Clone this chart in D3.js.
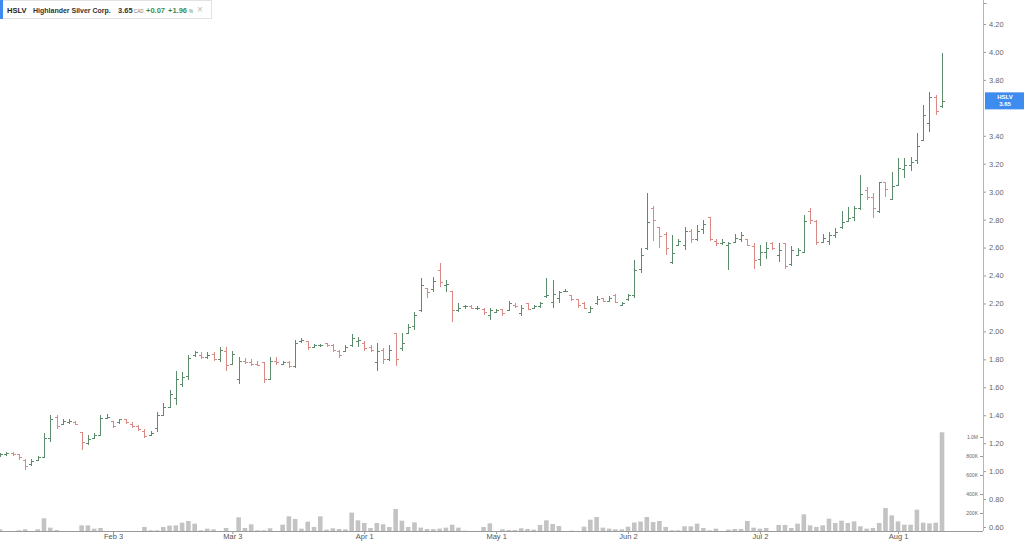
<!DOCTYPE html>
<html><head><meta charset="utf-8">
<script src="https://cdn.jsdelivr.net/npm/d3@7"></script>
<style>
html,body{margin:0;padding:0;background:#fff;}
svg{display:block;font-family:"Liberation Sans",Arial,sans-serif;}
</style></head>
<body>
<svg id="chart" width="1024" height="546"></svg>
<script>
const dates = [
"2025-01-08","2025-01-09","2025-01-10","2025-01-13","2025-01-14","2025-01-15","2025-01-16","2025-01-17","2025-01-20","2025-01-21",
"2025-01-22","2025-01-23","2025-01-24","2025-01-27","2025-01-28","2025-01-29","2025-01-30","2025-01-31","2025-02-03","2025-02-04",
"2025-02-05","2025-02-06","2025-02-07","2025-02-10","2025-02-11","2025-02-12","2025-02-13","2025-02-14","2025-02-18","2025-02-19",
"2025-02-20","2025-02-21","2025-02-24","2025-02-25","2025-02-26","2025-02-27","2025-02-28","2025-03-03","2025-03-04","2025-03-05",
"2025-03-06","2025-03-07","2025-03-10","2025-03-11","2025-03-12","2025-03-13","2025-03-14","2025-03-17","2025-03-18","2025-03-19",
"2025-03-20","2025-03-21","2025-03-24","2025-03-25","2025-03-26","2025-03-27","2025-03-28","2025-03-31","2025-04-01","2025-04-02",
"2025-04-03","2025-04-04","2025-04-07","2025-04-08","2025-04-09","2025-04-10","2025-04-11","2025-04-14","2025-04-15","2025-04-16",
"2025-04-17","2025-04-21","2025-04-22","2025-04-23","2025-04-24","2025-04-25","2025-04-28","2025-04-29","2025-04-30","2025-05-01",
"2025-05-02","2025-05-05","2025-05-06","2025-05-07","2025-05-08","2025-05-09","2025-05-12","2025-05-13","2025-05-14","2025-05-15",
"2025-05-16","2025-05-20","2025-05-21","2025-05-22","2025-05-23","2025-05-26","2025-05-27","2025-05-28","2025-05-29","2025-05-30",
"2025-06-02","2025-06-03","2025-06-04","2025-06-05","2025-06-06","2025-06-09","2025-06-10","2025-06-11","2025-06-12","2025-06-13",
"2025-06-16","2025-06-17","2025-06-18","2025-06-19","2025-06-20","2025-06-23","2025-06-24","2025-06-25","2025-06-26","2025-06-27",
"2025-06-30","2025-07-02","2025-07-03","2025-07-04","2025-07-07","2025-07-08","2025-07-09","2025-07-10","2025-07-11","2025-07-14",
"2025-07-15","2025-07-16","2025-07-17","2025-07-18","2025-07-21","2025-07-22","2025-07-23","2025-07-24","2025-07-25","2025-07-28",
"2025-07-29","2025-07-30","2025-07-31","2025-08-01","2025-08-05","2025-08-06","2025-08-07","2025-08-08","2025-08-11","2025-08-12",
"2025-08-13"];

const open = [
1.11,1.12,1.13,1.12,1.08,1.05,1.08,1.10,1.24,1.39, 1.34,1.35,1.35,1.28,1.20,1.24,1.26,1.38,1.36,1.35,
1.37,1.34,1.32,1.29,1.26,1.31,1.40,1.46,1.52,1.62, 1.68,1.83,1.83,1.82,1.84,1.80,1.86,1.77,1.66,1.79,
1.78,1.77,1.78,1.66,1.79,1.77,1.78,1.75,1.93,1.93, 1.89,1.90,1.92,1.90,1.86,1.86,1.90,1.93,1.92,1.89,
1.78,1.87,1.80,1.99,1.88,1.99,2.04,2.15,2.31,2.30, 2.44,2.33,2.29,2.15,2.18,2.18,2.17,2.16,2.12,2.14,
2.16,2.15,2.19,2.13,2.20,2.17,2.18,2.25,2.21,2.24, 2.29,2.26,2.23,2.20,2.14,2.20,2.24,2.22,2.26,2.19,
2.23,2.26,2.45,2.60,2.88,2.75,2.70,2.50,2.62,2.62, 2.72,2.66,2.73,2.82,2.65,2.63,2.62,2.64,2.66,2.66,
2.61,2.52,2.57,2.63,2.55,2.63,2.48,2.55,2.57,2.86, 2.79,2.64,2.65,2.69,2.75,2.79,2.82,2.88,3.01,2.96,
2.86,3.07,2.95,3.05,3.16,3.19,3.23,3.37,3.49,3.68, 3.61];

const high = [
1.13,1.14,1.14,1.12,1.09,1.09,1.11,1.27,1.40,1.40, 1.37,1.37,1.36,1.28,1.26,1.27,1.40,1.41,1.36,1.37,
1.37,1.35,1.33,1.30,1.29,1.42,1.49,1.58,1.72,1.71, 1.83,1.86,1.85,1.85,1.85,1.89,1.89,1.86,1.82,1.81,
1.80,1.79,1.78,1.82,1.82,1.79,1.79,1.94,1.95,1.93, 1.91,1.91,1.92,1.91,1.87,1.90,1.98,1.96,1.93,1.90,
1.92,1.88,1.90,1.99,1.99,2.05,2.14,2.38,2.31,2.39, 2.49,2.37,2.29,2.20,2.19,2.19,2.18,2.17,2.17,2.16,
2.16,2.22,2.20,2.19,2.20,2.19,2.21,2.38,2.37,2.29, 2.30,2.26,2.23,2.21,2.18,2.25,2.24,2.25,2.27,2.21,
2.27,2.51,2.60,2.99,2.90,2.75,2.71,2.69,2.66,2.75, 2.73,2.76,2.80,2.82,2.66,2.66,2.64,2.70,2.71,2.66,
2.63,2.62,2.64,2.64,2.63,2.63,2.61,2.60,2.83,2.88, 2.80,2.70,2.71,2.74,2.86,2.89,2.90,3.12,3.03,2.99,
3.07,3.07,3.14,3.24,3.24,3.25,3.42,3.62,3.71,3.69, 3.99];

const low = [
1.10,1.11,1.11,1.08,1.01,1.04,1.07,1.10,1.21,1.30, 1.33,1.34,1.33,1.15,1.19,1.23,1.25,1.37,1.31,1.34,
1.34,1.31,1.29,1.24,1.25,1.28,1.40,1.46,1.47,1.60, 1.65,1.82,1.80,1.80,1.79,1.78,1.72,1.76,1.62,1.77,
1.75,1.75,1.63,1.65,1.76,1.76,1.74,1.74,1.92,1.87, 1.89,1.89,1.89,1.85,1.81,1.86,1.89,1.89,1.86,1.85,
1.72,1.77,1.79,1.75,1.86,1.98,2.01,2.14,2.24,2.28, 2.32,2.28,2.07,2.14,2.16,2.16,2.15,2.12,2.08,2.13,
2.11,2.15,2.17,2.11,2.15,2.16,2.17,2.24,2.17,2.20, 2.28,2.22,2.17,2.16,2.13,2.19,2.21,2.21,2.20,2.18,
2.22,2.24,2.42,2.58,2.65,2.60,2.55,2.48,2.61,2.58, 2.63,2.65,2.70,2.65,2.61,2.62,2.44,2.63,2.64,2.61,
2.45,2.47,2.52,2.58,2.50,2.45,2.47,2.54,2.57,2.77, 2.62,2.63,2.62,2.67,2.73,2.78,2.79,2.87,2.94,2.81,
2.85,2.96,2.94,3.05,3.10,3.15,3.20,3.36,3.43,3.55, 3.60];

const close = [
1.12,1.13,1.12,1.10,1.04,1.07,1.10,1.24,1.37,1.32, 1.36,1.36,1.34,1.21,1.23,1.26,1.38,1.39,1.32,1.37,
1.35,1.32,1.30,1.25,1.27,1.40,1.46,1.55,1.66,1.67, 1.81,1.85,1.82,1.83,1.80,1.87,1.76,1.84,1.79,1.78,
1.77,1.76,1.66,1.79,1.78,1.78,1.75,1.92,1.94,1.89, 1.90,1.90,1.90,1.87,1.83,1.89,1.95,1.94,1.88,1.87,
1.86,1.80,1.87,1.80,1.92,2.03,2.12,2.33,2.28,2.36, 2.35,2.34,2.15,2.17,2.18,2.17,2.17,2.14,2.15,2.15,
2.13,2.20,2.18,2.17,2.16,2.18,2.20,2.26,2.27,2.28, 2.29,2.23,2.19,2.17,2.17,2.23,2.22,2.24,2.21,2.20,
2.26,2.44,2.55,2.78,2.80,2.68,2.60,2.56,2.65,2.72, 2.66,2.72,2.77,2.66,2.63,2.64,2.63,2.67,2.69,2.62,
2.51,2.57,2.60,2.60,2.58,2.47,2.58,2.58,2.79,2.80, 2.64,2.67,2.69,2.71,2.78,2.81,2.88,2.98,2.96,2.88,
3.07,3.02,3.04,3.17,3.19,3.21,3.33,3.55,3.68,3.58, 3.65];

const volume = [
28,0,0,18,28,0,28,144,46,21, 11,0,0,70,70,35,42,11,0,11,
7,0,0,53,18,18,53,67,70,98, 116,88,18,35,28,0,42,0,155,42,
81,18,18,39,7,77,165,137,35,109, 53,165,25,39,32,28,204,123,95,42,
95,81,53,242,119,53,102,46,32,30, 35,46,77,46,14,11,11,53,91,5,
28,21,21,39,32,25,74,123,84,63, 11,14,11,56,130,158,46,35,28,28,
56,100,110,158,105,116,53,18,18,60, 60,88,42,18,35,11,25,32,32,116,
46,35,42,11,74,74,42,88,186,70, 53,70,140,95,119,95,112,60,35,42,
95,253,175,112,77,77,235,98,91,98, 1050];

const priceTicks = [0.6,0.8,1.0,1.2,1.4,1.6,1.8,2.0,2.2,2.4,2.6,2.8,3.0,3.2,3.4,3.8,4.0,4.2];
const volumeTicks = [200,400,600,800,1000];
const dateTicks = ["2025-02-03","2025-03-03","2025-04-01","2025-05-01","2025-06-02","2025-07-02","2025-08-01"];
const dateTickLabels = ["Feb 3","Mar 3","Apr 1","May 1","Jun 2","Jul 2","Aug 1"];

const symbol = "HSLV", company = "Highlander Silver Corp.", last = "3.65", currency = "CAD", chg = "+0.07", chgPct = "+1.96";

const svg = d3.select("#chart");
const axisX = 983, baseY = 531;
const GREEN = "#5d8c6c", RED = "#da8984";

const x = d3.scalePoint().domain(dates).range([0, 942]);
const y = d3.scaleLinear().domain([0.6, 4.2]).range([527, 24]);
const yv = d3.scaleLinear().domain([0, 1000]).range([532, 437]);

// volume bars
svg.append("g").selectAll("rect").data(dates).join("rect")
  .attr("x", d => x(d) - 2.3)
  .attr("width", 4.6)
  .attr("y", (d,i) => yv(volume[i]))
  .attr("height", (d,i) => Math.max(0, yv(0) - yv(volume[i])))
  .attr("fill", "#c3c3c3");

// OHLC bars
const g = svg.append("g").attr("shape-rendering","crispEdges");
dates.forEach((d,i) => {
  const cx = Math.round(x(d)) + 0.5;
  const col = close[i] >= open[i] ? GREEN : RED;
  g.append("line").attr("x1",cx).attr("x2",cx).attr("y1",y(high[i])).attr("y2",y(low[i])+0.01).attr("stroke",col).attr("stroke-width",1);
  g.append("line").attr("x1",cx-2.5).attr("x2",cx).attr("y1",Math.round(y(open[i]))+0.5).attr("y2",Math.round(y(open[i]))+0.5).attr("stroke",col);
  g.append("line").attr("x1",cx).attr("x2",cx+2.5).attr("y1",Math.round(y(close[i]))+0.5).attr("y2",Math.round(y(close[i]))+0.5).attr("stroke",col);
});

// bottom axis
const xa = svg.append("g").attr("transform",`translate(0,${baseY})`)
  .call(d3.axisBottom(x).tickValues(dateTicks).tickSize(3).tickSizeOuter(0).tickFormat((d,i)=>dateTickLabels[i]));
xa.select(".domain").remove();
xa.append("line").attr("x1",0).attr("x2",axisX).attr("y1",0.5).attr("y2",0.5).attr("stroke","#9a9a9a");
xa.selectAll(".tick line").attr("stroke","#9a9a9a");
xa.selectAll(".tick text").attr("fill","#555").attr("font-size","7.5px").attr("dy","0.5em").attr("y",4);

// right price axis
const ya = svg.append("g").attr("transform",`translate(${axisX},0)`)
  .call(d3.axisRight(y).tickValues(priceTicks).tickSize(3).tickPadding(3).tickFormat(d3.format(".2f")));
ya.select(".domain").remove();
ya.append("line").attr("x1",0.5).attr("x2",0.5).attr("y1",0).attr("y2",baseY).attr("stroke","#b5b5b5");
ya.append("line").attr("x1",0.5).attr("x2",3.5).attr("y1",3.5).attr("y2",3.5).attr("stroke","#9a9a9a");
ya.selectAll(".tick line").attr("stroke","#9a9a9a");
ya.selectAll(".tick text").attr("fill","#666").attr("font-size","7.5px");

// volume axis (left of price axis)
const va = svg.append("g").attr("transform",`translate(${axisX},0)`)
  .call(d3.axisLeft(yv).tickValues(volumeTicks).tickSize(3).tickPadding(2).tickFormat(d => d >= 1000 ? (d/1000).toFixed(1)+"M" : d+"K"));
va.select(".domain").remove();
va.selectAll(".tick line").attr("stroke","#9a9a9a");
va.selectAll(".tick text").attr("fill","#666").attr("font-size","5px");

// last price label
const lp = svg.append("g");
lp.append("rect").attr("x",985).attr("y",y(+last)-8.5).attr("width",39).attr("height",17).attr("fill","#3f8cf0");
lp.append("text").attr("x",1005).attr("y",y(+last)-2).attr("text-anchor","middle").attr("fill","#fff").attr("font-size","6px").attr("font-weight","bold").text(symbol);
lp.append("text").attr("x",1005).attr("y",y(+last)+5.5).attr("text-anchor","middle").attr("fill","#fff").attr("font-size","6px").attr("font-weight","bold").text(last);

// header
const h = svg.append("g");
h.append("rect").attr("x",0.5).attr("y",0.5).attr("width",211).attr("height",18).attr("fill","#fff").attr("stroke","#e2e2e2");
h.append("rect").attr("x",0).attr("y",0).attr("width",3).attr("height",19).attr("fill","#3f8cf0");
function ht(xp, txt, size, weight, fill) {
  return h.append("text").attr("x",xp).attr("y",12.5).attr("font-size",size).attr("font-weight",weight).attr("fill",fill).text(txt);
}
ht(7, symbol, "7.5px", "bold", "#222");
ht(33, company, "7px", "bold", "#333");
ht(118, last, "7.5px", "bold", "#333");
ht(134, currency, "4.5px", "normal", "#777");
ht(146, chg, "7.5px", "bold", "#3f8c4a");
ht(168, chgPct, "7.5px", "bold", "#3f8c4a");
ht(189, "%", "4.5px", "normal", "#3f8c4a");
h.append("text").attr("x",197).attr("y",13).attr("font-size","10px").attr("fill","#bbb").text("×");
</script>
</body></html>
